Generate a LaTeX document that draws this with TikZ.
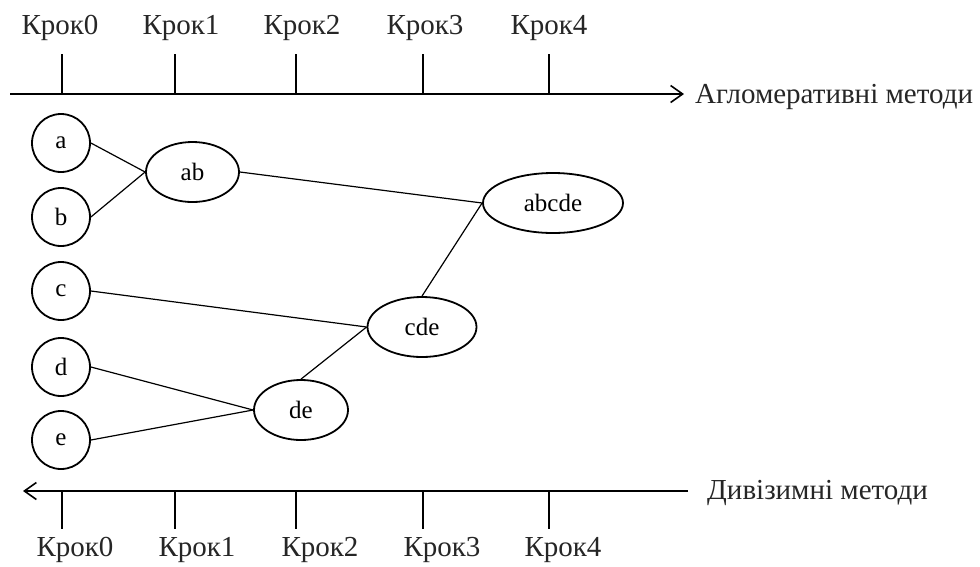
\documentclass[tikz,border=0pt]{standalone}
\usepackage{fontspec}
\setmainfont{Liberation Serif}
\usetikzlibrary{arrows.meta,shapes.geometric}
\begin{document}
\begin{tikzpicture}[x=1pt,y=-1pt,
  lbl/.style={font=\fontsize{29}{34}\selectfont, inner sep=0pt, text=black!85},
  circ/.style={draw, line width=1.8pt, circle, minimum size=58pt, inner sep=0pt, font=\fontsize{25}{30}\selectfont},
  ell/.style={draw, line width=1.8pt, ellipse, inner sep=0pt, minimum height=60pt, font=\fontsize{25}{30}\selectfont},
  axisline/.style={line width=1.8pt},
  tickline/.style={line width=1.3pt},
  conn/.style={line width=1.2pt}]
\useasboundingbox (0,0) rectangle (980,566);
\fill[white] (0,0) rectangle (980,566);

% top axis
\coordinate (ta) at (10,94);
\coordinate (tb) at (684,94);
\draw[axisline,-{Straight Barb[length=12pt,width=17pt,line width=1.6pt]}] (ta) -- (tb);
\node[lbl, anchor=west] (agl) at (695,97) {Агломеративні методи};

\node[lbl] (t0) at (60,28) {Крок0};
\node[lbl] (t1) at (181,28) {Крок1};
\node[lbl] (t2) at (302,28) {Крок2};
\node[lbl] (t3) at (425,28) {Крок3};
\node[lbl] (t4) at (549,28) {Крок4};
\foreach \x [count=\i from 0] in {62,175,296,423,549}{
  \coordinate (tu\i) at (\x,54);
  \coordinate (td\i) at (\x,94);
  \draw[tickline] (tu\i) -- (td\i);
}

% bottom axis
\coordinate (ba) at (688,491);
\coordinate (bb) at (23,491);
\draw[axisline,-{Straight Barb[length=12pt,width=17pt,line width=1.6pt]}] (ba) -- (bb);
\node[lbl, anchor=west] (div) at (707,493) {Дивізимні методи};

\node[lbl] (b0) at (75,550) {Крок0};
\node[lbl] (b1) at (197,550) {Крок1};
\node[lbl] (b2) at (320,550) {Крок2};
\node[lbl] (b3) at (442,550) {Крок3};
\node[lbl] (b4) at (563,550) {Крок4};
\foreach \x [count=\i from 0] in {62,175,296,423,549}{
  \coordinate (bu\i) at (\x,491);
  \coordinate (bd\i) at (\x,529);
  \draw[tickline] (bu\i) -- (bd\i);
}

% leaves
\node[circ] (a) at (61,143) {a};
\node[circ] (b) at (61,217) {b};
\node[circ] (c) at (61,291) {c};
\node[circ] (d) at (61,367) {d};
\node[circ] (e) at (61,440) {e};

% clusters
\node[ell, minimum width=93pt] (ab) at (192.5,172) {ab};
\node[ell, minimum width=94pt] (de) at (301,410) {de};
\node[ell, minimum width=109pt] (cde) at (422,327) {cde};
\node[ell, minimum width=140pt] (abcde) at (553,203) {abcde};

% connectors
\draw[conn] (a.east) -- (ab.west);
\draw[conn] (b.east) -- (ab.west);
\draw[conn] (ab.east) -- (abcde.west);
\draw[conn] (c.east) -- (cde.west);
\draw[conn] (d.east) -- (de.west);
\draw[conn] (e.east) -- (de.west);
\draw[conn] (de.north) -- (cde.west);
\draw[conn] (cde.north) -- (abcde.west);
\end{tikzpicture}
\end{document}
